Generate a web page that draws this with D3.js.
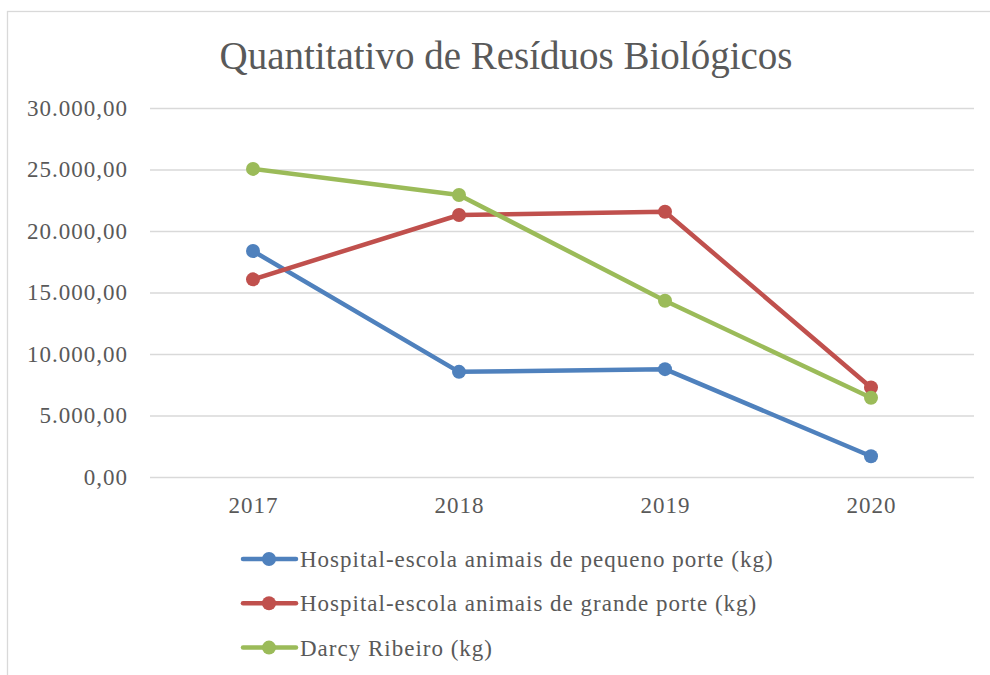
<!DOCTYPE html>
<html>

<head>
    <meta charset="utf-8">
    <style>
        body {
            margin: 0;
            background: #fff;
        }

        svg text {
            font-family: 'Liberation Serif', 'DejaVu Serif', serif;
        }

        .grid .tick line {
            stroke: #d9d9d9;
            stroke-width: 1.3;
        }

        .grid .domain,
        .x .domain {
            display: none;
        }

        .y .tick text,
        .x .tick text {
            font-size: 23px;
            letter-spacing: 1px;
            fill: #595959;
        }

        .title {
            font-size: 39px;
            fill: #595959;
        }

        .legend text {
            font-size: 23px;
            letter-spacing: 1px;
            fill: #595959;
        }
    </style>
</head>

<body>
    <svg width="990" height="675"></svg>

<script src="https://d3js.org/d3.v7.min.js"></script>

<script>
    let years = ["2017", "2018", "2019", "2020"];
    let pequeno = [18370, 8550, 8770, 1690];
    let grande = [16070, 21300, 21570, 7280];
    let darcy = [25050, 22930, 14330, 6440];
    let yTicks = [0, 5000, 10000, 15000, 20000, 25000, 30000];

    let seriesNames = [
        "Hospital-escola animais de pequeno porte (kg)",
        "Hospital-escola animais de grande porte (kg)",
        "Darcy Ribeiro (kg)"
    ];
    let seriesColors = ["#4f81bd", "#c0504d", "#9bbb59"];

    let series = [pequeno, grande, darcy].map(function (vals, i) {
        return { name: seriesNames[i], color: seriesColors[i], values: vals };
    });

    let width = 990;
    let height = 675;
    let margin = { top: 108, right: 16, bottom: 198, left: 150 };

    let svg = d3.select("svg");

    // chart frame (runs off the right and bottom edge like the original)
    svg.append("rect")
        .attr("x", 7.5)
        .attr("y", 11.5)
        .attr("width", 1000)
        .attr("height", 700)
        .attr("fill", "#fff")
        .attr("stroke", "#d9d9d9")
        .attr("stroke-width", 1.3);

    let xScale = d3.scalePoint()
        .domain(years)
        .range([margin.left, width - margin.right])
        .padding(0.5);

    let yScale = d3.scaleLinear()
        .domain([0, 30000])
        .range([height - margin.bottom, margin.top]);

    let fmt = d3.formatLocale({ decimal: ",", thousands: ".", grouping: [3], currency: ["R$", ""] }).format(",.2f");

    svg.append("g")
        .attr("class", "grid")
        .attr("transform", `translate(${margin.left},0)`)
        .call(d3.axisRight(yScale).tickValues(yTicks).tickSize(width - margin.left - margin.right).tickFormat(""));

    svg.append("g")
        .attr("class", "y axis")
        .attr("transform", `translate(${margin.left - 22},0)`)
        .call(d3.axisLeft(yScale).tickValues(yTicks).tickSize(0).tickPadding(0).tickFormat(fmt))
        .call(function (g) { g.select(".domain").remove(); });

    svg.append("g")
        .attr("class", "x axis")
        .attr("transform", `translate(0,${height - margin.bottom})`)
        .call(d3.axisBottom(xScale).tickSize(0).tickPadding(20));

    svg.append("text")
        .attr("class", "title")
        .attr("x", 506)
        .attr("y", 69)
        .attr("text-anchor", "middle")
        .text("Quantitativo de Resíduos Biológicos");

    let line = d3.line()
        .x(function (d, i) { return xScale(years[i]); })
        .y(function (d) { return yScale(d); });

    let lines = svg.selectAll(".serie")
        .data(series)
        .enter().append("g")
        .attr("class", "serie");

    lines.append("path")
        .attr("d", function (d) { return line(d.values); })
        .attr("fill", "none")
        .attr("stroke", function (d) { return d.color; })
        .attr("stroke-width", 4.5)
        .attr("stroke-linejoin", "round");

    lines.selectAll("circle")
        .data(function (d) { return d.values.map(function (v) { return { v: v, color: d.color }; }); })
        .enter().append("circle")
        .attr("cx", function (d, i) { return xScale(years[i]); })
        .attr("cy", function (d) { return yScale(d.v); })
        .attr("r", 7)
        .attr("fill", function (d) { return d.color; });

    let legend = svg.append("g")
        .attr("class", "legend")
        .selectAll("g")
        .data(series)
        .enter().append("g")
        .attr("transform", function (d, i) { return `translate(241,${559 + i * 44.3})`; });

    legend.append("line")
        .attr("x1", 2)
        .attr("x2", 55)
        .attr("stroke", function (d) { return d.color; })
        .attr("stroke-width", 4.5)
        .attr("stroke-linecap", "round");

    legend.append("circle")
        .attr("cx", 28)
        .attr("r", 7)
        .attr("fill", function (d) { return d.color; });

    legend.append("text")
        .attr("x", 59)
        .attr("dy", "0.35em")
        .text(function (d) { return d.name; });
</script>
</body>

</html>
